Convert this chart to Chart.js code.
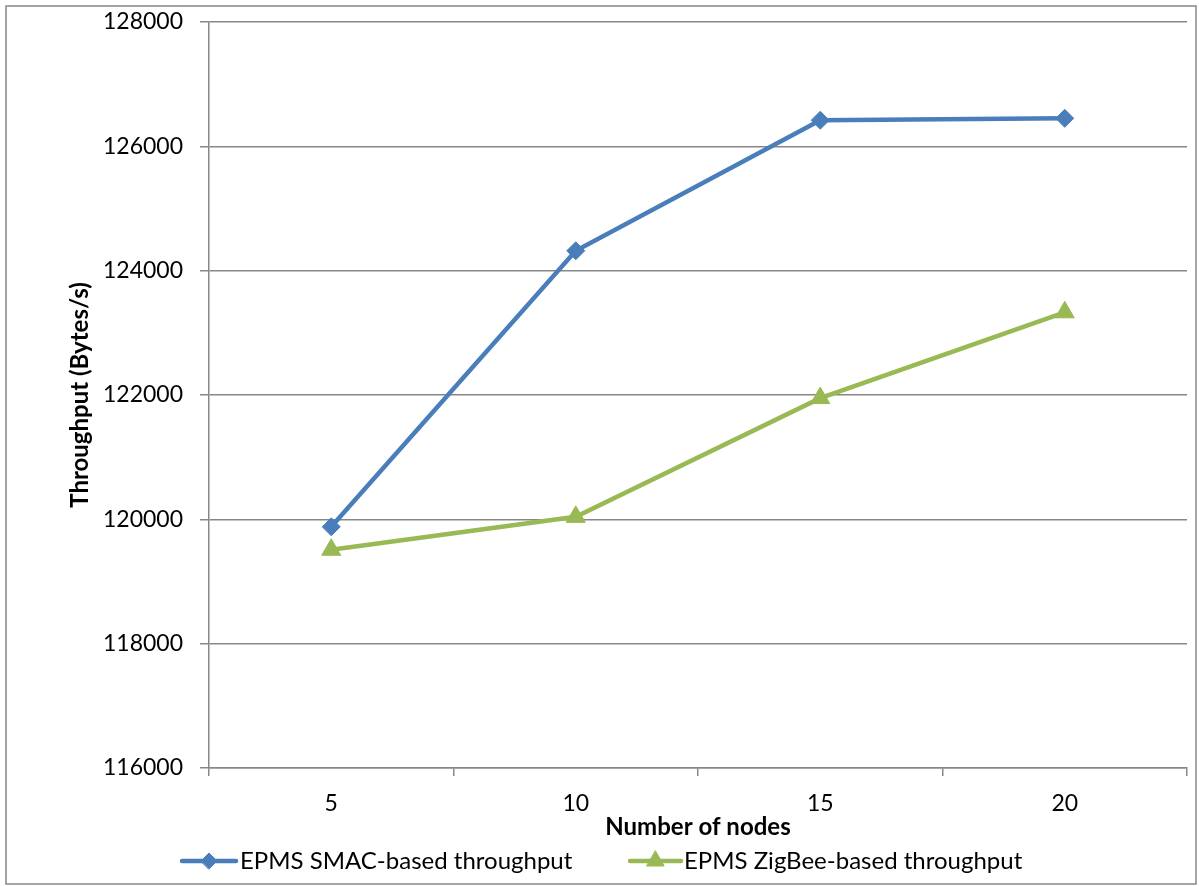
<!DOCTYPE html>
<html>
<head>
<meta charset="utf-8">
<style>
  html, body { margin: 0; padding: 0; background: #fff; }
  #wrap { width: 1199px; height: 886px; }
</style>
<script src="https://cdn.jsdelivr.net/npm/chart.js@4/dist/chart.umd.min.js"></script>
</head>
<body>
<div id="wrap"><canvas id="throughputChart" width="1199" height="886"></canvas></div>
<script>
const nodeCounts = ['5', '10', '15', '20'];
const smacThroughput = [119880, 124320, 126420, 126450];
const zigbeeThroughput = [119510, 120040, 121950, 123330];
const yTicks = { min: 116000, max: 128000, step: 2000 };

const FONT = 'Lato, "Noto Sans", sans-serif';
const GRID = '#878787';

// outer frame around the whole chart
const framePlugin = {
    id: 'frame',
    beforeDraw(chart) {
        const c = chart.ctx;
        c.save();
        c.strokeStyle = GRID;
        c.lineWidth = 1.5;
        c.strokeRect(6, 6, 1190, 878);
        c.restore();
    }
};

// bottom legend: short line segment with the marker in the middle
const lineLegend = {
    id: 'lineLegend',
    afterDraw(chart) {
        const c = chart.ctx;
        const y = 861;
        const items = [
            { x0: 182, x1: 236, tx: 240 },
            { x0: 630, x1: 681, tx: 684 }
        ];
        chart.data.datasets.forEach((ds, i) => {
            const it = items[i];
            c.save();
            c.strokeStyle = ds.borderColor;
            c.lineWidth = ds.borderWidth;
            c.lineCap = 'round';
            c.beginPath();
            c.moveTo(it.x0, y);
            c.lineTo(it.x1, y);
            c.stroke();
            c.fillStyle = ds.pointBackgroundColor;
            c.strokeStyle = ds.pointBorderColor;
            c.lineWidth = 1;
            Chart.helpers.drawPoint(c, {
                pointStyle: ds.pointStyle,
                radius: ds.pointRadius - 1,
                rotation: 0,
                borderWidth: 1
            }, (it.x0 + it.x1) / 2, y);
            c.fillStyle = '#000';
            c.font = '24px ' + FONT;
            c.textBaseline = 'middle';
            c.textAlign = 'left';
            c.fillText(ds.label, it.tx, y);
            c.restore();
        });
    }
};

new Chart(document.getElementById('throughputChart'), {
    type: 'line',
    data: {
        labels: nodeCounts,
        datasets: [{
            label: 'EPMS SMAC-based throughput',
            data: smacThroughput,
            borderColor: '#4A7EBB',
            backgroundColor: '#4A7EBB',
            borderWidth: 4.5,
            pointStyle: 'rectRot',
            pointRadius: 9,
            pointBackgroundColor: '#4A7EBB',
            pointBorderColor: '#4A7EBB',
            pointBorderWidth: 1,
            tension: 0
        }, {
            label: 'EPMS ZigBee-based throughput',
            data: zigbeeThroughput,
            borderColor: '#98B954',
            backgroundColor: '#98B954',
            borderWidth: 4.5,
            pointStyle: 'triangle',
            pointRadius: 11,
            pointBackgroundColor: '#98B954',
            pointBorderColor: '#98B954',
            pointBorderWidth: 1,
            tension: 0
        }]
    },
    options: {
        responsive: false,
        animation: false,
        layout: { padding: { top: 22, right: 11, bottom: 44, left: 0 } },
        plugins: {
            legend: { display: false },
            tooltip: { enabled: false }
        },
        scales: {
            x: {
                offset: true,
                grid: {
                    offset: true,
                    drawOnChartArea: false,
                    drawTicks: true,
                    tickLength: 8,
                    color: GRID,
                    lineWidth: 1.5
                },
                border: { color: GRID, width: 1.5 },
                ticks: {
                    color: '#000',
                    padding: 14,
                    font: { family: FONT, size: 23 }
                },
                title: {
                    display: true,
                    text: 'Number of nodes',
                    color: '#000',
                    font: { family: FONT, size: 24, weight: 'bold' },
                    padding: { top: 0, bottom: 0 }
                },
                afterFit(scale) { scale.height = 74; }
            },
            y: {
                min: yTicks.min,
                max: yTicks.max,
                grid: {
                    color: GRID,
                    lineWidth: 1.5,
                    drawTicks: true,
                    tickLength: 9
                },
                border: { color: GRID, width: 1.5 },
                ticks: {
                    stepSize: yTicks.step,
                    color: '#000',
                    padding: 17,
                    font: { family: FONT, size: 23 },
                    callback: v => String(v)
                },
                title: {
                    display: true,
                    text: 'Throughput (Bytes/s)',
                    color: '#000',
                    font: { family: FONT, size: 24, weight: 'bold' },
                    padding: { top: 66, bottom: 0 }
                },
                afterFit(scale) {
                    scale.width = 209;
                    scale.paddingTop = 0;
                    scale.paddingBottom = 0;
                }
            }
        }
    },
    plugins: [framePlugin, lineLegend]
});
</script>
</body>
</html>
